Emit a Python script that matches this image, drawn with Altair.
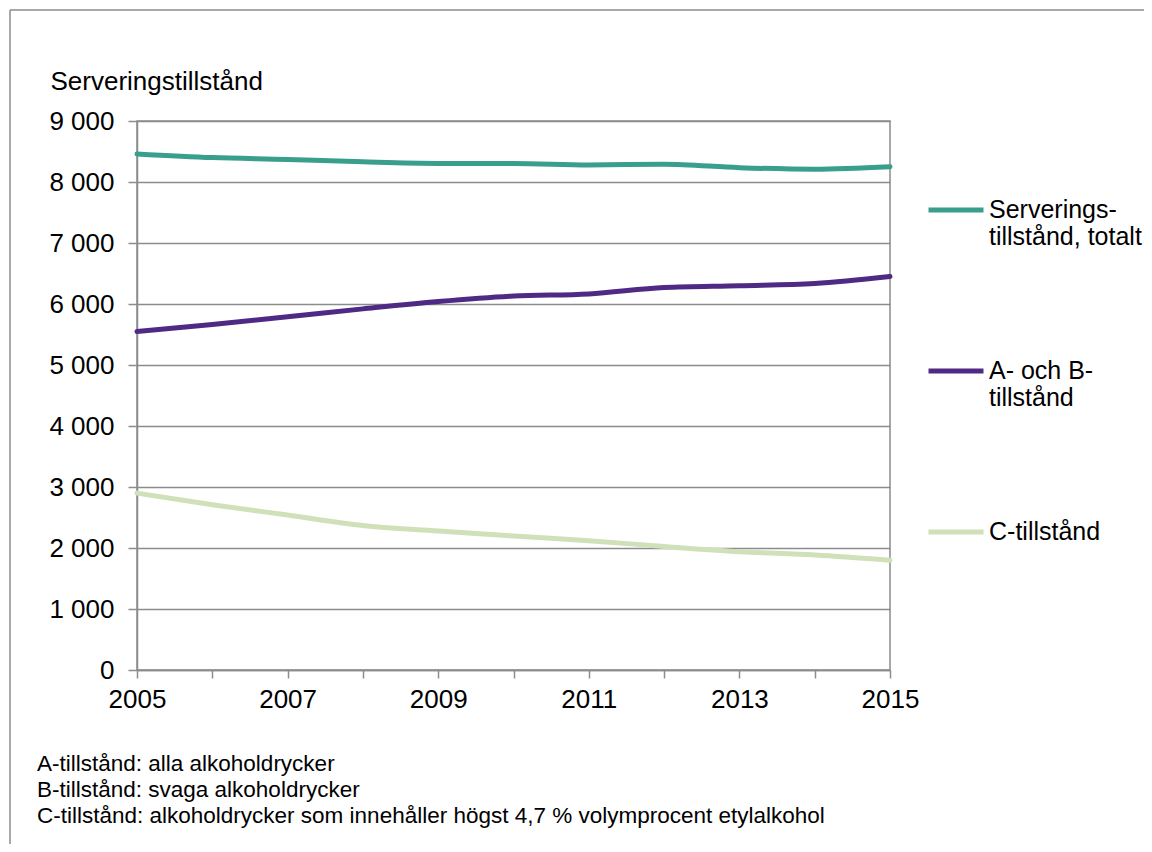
import altair as alt
import pandas as pd

years = list(range(2005, 2016))
total = [8460, 8400, 8370, 8330, 8305, 8305, 8280, 8290, 8235, 8210, 8250]
ab = [5550, 5665, 5790, 5920, 6040, 6130, 6165, 6270, 6300, 6335, 6450]
c_tillstand = [2900, 2710, 2540, 2370, 2280, 2195, 2120, 2025, 1940, 1885, 1800]

series_names = ["Serveringstillstånd, totalt", "A- och B-tillstånd", "C-tillstånd"]
series_colors = ["#3A9E8D", "#4E2A84", "#D0E0B8"]
y_ticks = [0, 1000, 2000, 3000, 4000, 5000, 6000, 7000, 8000, 9000]
footnotes = [
    "A-tillstånd: alla alkoholdrycker",
    "B-tillstånd: svaga alkoholdrycker",
    "C-tillstånd: alkoholdrycker som innehåller högst 4,7 % volymprocent etylalkohol",
]

rows = []
for name, vals in zip(series_names, [total, ab, c_tillstand]):
    for yr, v in zip(years, vals):
        rows.append({"year": yr, "value": v, "series": name})
df = pd.DataFrame(rows)

FONT = "Liberation Sans"
GRAY = "#8C8C8C"

legend_label_expr = (
    "datum.label == 'Serveringstillstånd, totalt' ? ['Serverings-', 'tillstånd, totalt'] : "
    "datum.label == 'A- och B-tillstånd' ? ['A- och B-', 'tillstånd'] : 'C-tillstånd'"
)

lines = alt.Chart(df).mark_line(strokeWidth=5, interpolate="monotone", strokeCap="round").encode(
    x=alt.X(
        "year:Q",
        scale=alt.Scale(domain=[2005, 2015], nice=False, zero=False),
        axis=alt.Axis(
            values=years, format="d", title=None, grid=False,
            labelExpr="datum.value % 2 == 1 ? datum.label : ''",
            tickSize=8, labelPadding=8, labelFontSize=26, labelColor="black",
            labelFlush=False, labelOverlap=False,
        ),
    ),
    y=alt.Y(
        "value:Q",
        scale=alt.Scale(domain=[0, 9000], nice=False),
        axis=alt.Axis(
            values=y_ticks, title="Serveringstillstånd",
            labelExpr="replace(format(datum.value, ','), ',', ' ')",
            tickSize=9, labelPadding=14, labelFontSize=26, labelColor="black",
            titleAngle=0, titleAlign="left", titleBaseline="alphabetic",
            titleX=-87, titleY=-32, titleFontSize=26, titleFontWeight="normal",
            titleColor="black", grid=True,
        ),
    ),
    color=alt.Color(
        "series:N",
        scale=alt.Scale(domain=series_names, range=series_colors),
        legend=alt.Legend(
            title=None, orient="none", legendX=789, legendY=59, direction="vertical",
            symbolType="stroke", symbolSize=3025, symbolStrokeWidth=5,
            labelFontSize=25, labelLimit=400, labelOffset=3, labelBaseline="middle",
            labelExpr=legend_label_expr, rowPadding=91, padding=0, labelColor="black",
        ),
    ),
)

frame_df = pd.DataFrame({"k": [0]})
left_border = alt.Chart(frame_df).mark_rule(color=GRAY, strokeWidth=1.5).encode(
    x=alt.value(-127), y=alt.value(-111), y2=alt.value(723)
)
top_border = alt.Chart(frame_df).mark_rule(color=GRAY, strokeWidth=1.5).encode(
    x=alt.value(-127), x2=alt.value(1007), y=alt.value(-111)
)

chart = alt.layer(left_border, top_border, lines).properties(
    width=753,
    height=549,
    padding={"left": 129, "top": 113, "right": 254, "bottom": 174},
    autosize=alt.AutoSizeParams(type="none"),
    title=alt.TitleParams(
        text=footnotes, orient="bottom", anchor="start", frame="group",
        fontSize=22.5, lineHeight=26, dx=-100, offset=-92, font=FONT,
        fontWeight="normal", color="black",
    ),
).configure(
    font=FONT,
).configure_axis(
    domainColor=GRAY, domainWidth=1.5, tickColor=GRAY, tickWidth=1.5,
    gridColor=GRAY, gridWidth=1.5, labelFont=FONT, titleFont=FONT,
).configure_view(
    stroke=GRAY, strokeWidth=1.5,
).configure_legend(
    labelFont=FONT,
)

chart.save("out.html", embed_options={"renderer": "svg", "actions": False})
